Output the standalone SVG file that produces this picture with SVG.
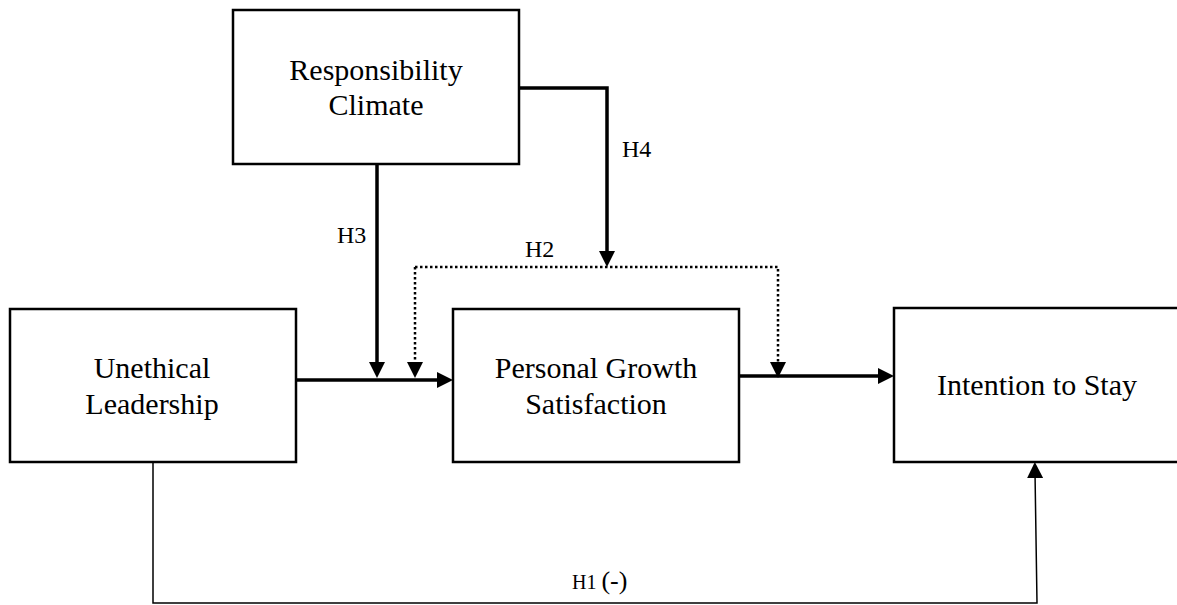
<svg xmlns="http://www.w3.org/2000/svg" width="1177" height="605" viewBox="0 0 1177 605">
<style>
.box{fill:#fff;stroke:#000;stroke-width:2.5}
.lbl{font-family:"Liberation Serif","Times New Roman",serif;font-size:30px;fill:#000;text-anchor:middle}
.h{font-family:"Liberation Serif","Times New Roman",serif;font-size:24px;fill:#000}
.thick{fill:none;stroke:#000;stroke-width:3.5}
.dot{fill:none;stroke:#000;stroke-width:2.5;stroke-dasharray:2.5 2.5}
.thin{fill:none;stroke:#000;stroke-width:1.5}
</style>
<defs>
<marker id="ah" markerUnits="userSpaceOnUse" markerWidth="16" markerHeight="16" refX="6" refY="8" orient="auto">
<path d="M0,0 L16,8 L0,16 z" fill="#000"/>
</marker>
</defs>
<rect width="1177" height="605" fill="#fff"/>
<g id="connectors">
<path class="thick" d="M519,88 H607 V257" marker-end="url(#ah)"/>
<path class="thick" d="M377,164 V368" marker-end="url(#ah)"/>
<path class="thick" d="M296,380 H443" marker-end="url(#ah)"/>
<path class="thick" d="M739,376 H884" marker-end="url(#ah)"/>
<path class="dot" d="M415,267 H778 V368" marker-end="url(#ah)"/>
<path class="dot" d="M415,267 V368" marker-end="url(#ah)"/>
<path class="thin" d="M153,462 V603 H1037 L1035,472" marker-end="url(#ah)"/>
<text class="h" x="337" y="243">H3</text>
<text class="h" x="525" y="257">H2</text>
<text class="h" x="622" y="157">H4</text>
<text class="h" x="572" y="589" style="font-size:20px">H1 <tspan style="font-size:26px">(-)</tspan></text>
</g>
<g id="responsibility-climate">
<rect class="box" x="233" y="10" width="286" height="154"/>
<text class="lbl" x="376" y="80">Responsibility</text>
<text class="lbl" x="376" y="115">Climate</text>
</g>
<g id="unethical-leadership">
<rect class="box" x="10" y="309" width="286" height="153"/>
<text class="lbl" x="152" y="378">Unethical</text>
<text class="lbl" x="152" y="414">Leadership</text>
</g>
<g id="personal-growth-satisfaction">
<rect class="box" x="453" y="309" width="286" height="153"/>
<text class="lbl" x="596" y="378">Personal Growth</text>
<text class="lbl" x="596" y="414">Satisfaction</text>
</g>
<g id="intention-to-stay">
<rect class="box" x="894" y="308" width="290" height="154"/>
<text class="lbl" x="1037" y="395">Intention to Stay</text>
</g>
</svg>
